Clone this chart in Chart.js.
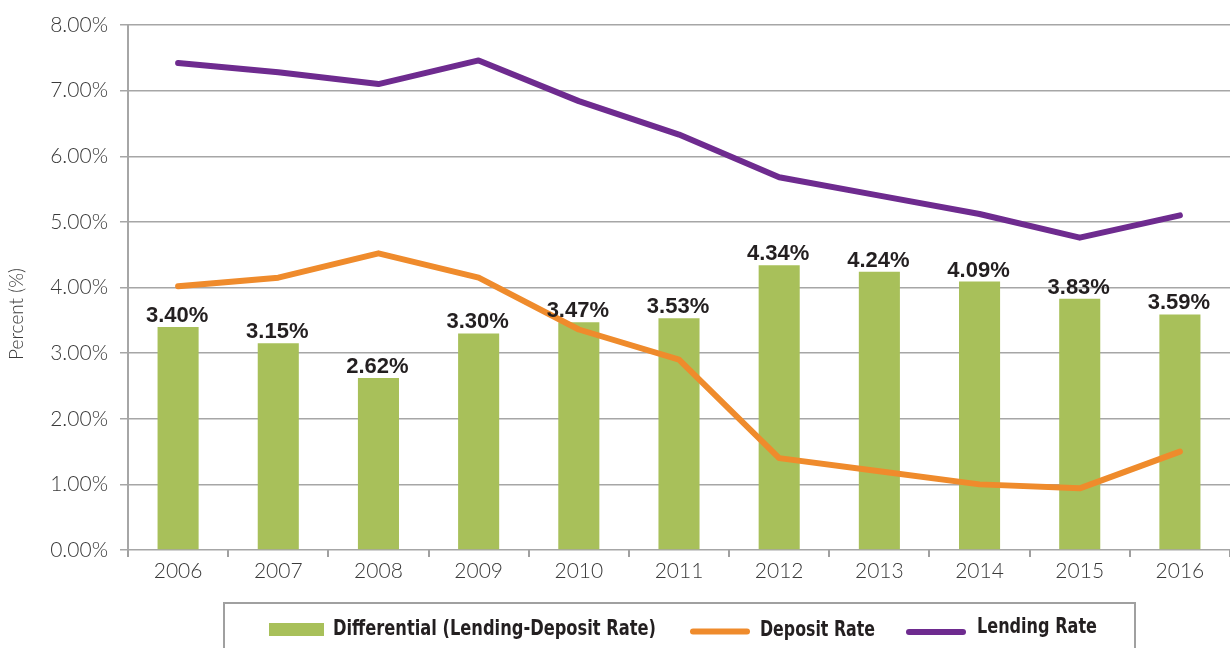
<!DOCTYPE html>
<html>
<head>
<meta charset="utf-8">
<script src="https://cdn.jsdelivr.net/npm/chart.js@4.4.1/dist/chart.umd.min.js"></script>
<style>
html,body{margin:0;padding:0;background:#fff;}
#wrap{width:1230px;height:648px;}
</style>
</head>
<body>
<div id="wrap"><canvas id="c" width="1230" height="648"></canvas></div>
<script>
const years = ['2006','2007','2008','2009','2010','2011','2012','2013','2014','2015','2016'];
const differential = [3.40,3.15,2.62,3.30,3.47,3.53,4.34,4.24,4.09,3.83,3.59];
const depositRate = [4.02,4.15,4.52,4.15,3.36,2.90,1.40,1.20,1.00,0.94,1.50];
const lendingRate = [7.42,7.28,7.10,7.46,6.84,6.33,5.68,5.40,5.12,4.76,5.10];
const yTicks = [0,1,2,3,4,5,6,7,8];
const seriesNames = ['Differential (Lending-Deposit Rate)','Deposit Rate','Lending Rate'];
const yTitle = 'Percent (%)';

const GREEN = '#a8c05a', ORANGE = '#ef8b2c', PURPLE = '#6e2b8f';

const valueLabels = {
  id: 'valueLabels',
  afterDatasetsDraw(chart) {
    const ctx = chart.ctx;
    const meta = chart.getDatasetMeta(0);
    ctx.save();
    ctx.font = 'bold 22px "Liberation Sans", Arial, sans-serif';
    ctx.fillStyle = '#231f20';
    ctx.textAlign = 'center';
    ctx.textBaseline = 'alphabetic';
    meta.data.forEach((bar, i) => {
      ctx.fillText(differential[i].toFixed(2) + '%', bar.x - 1, bar.y - 5);
    });
    ctx.restore();
  }
};

function fitText(ctx, text, x, y, w) {
  const m = ctx.measureText(text).width;
  ctx.save();
  ctx.translate(x, y);
  ctx.scale(w / m, 1);
  ctx.fillText(text, 0, 0);
  ctx.restore();
}

const boxLegend = {
  id: 'boxLegend',
  afterDraw(chart) {
    const ctx = chart.ctx;
    const ds = chart.data.datasets;
    ctx.save();
    // y title
    ctx.save();
    ctx.font = '300 19px Lato, sans-serif';
    ctx.fillStyle = '#3a3a3a';
    ctx.textAlign = 'center';
    ctx.textBaseline = 'middle';
    ctx.translate(17, 314);
    ctx.rotate(-Math.PI / 2);
    ctx.fillText(yTitle, 0, 0);
    ctx.restore();

    ctx.strokeStyle = '#a0a0a0';
    ctx.lineWidth = 2;
    ctx.strokeRect(224, 603, 911, 60);
    ctx.font = 'bold 21px "Liberation Sans Narrow", "DejaVu Sans Condensed", sans-serif';
    ctx.fillStyle = '#231f20';
    ctx.textBaseline = 'alphabetic';
    ctx.textAlign = 'left';
    ctx.fillStyle = ds[0].backgroundColor;
    ctx.fillRect(269, 623, 55, 13);
    ctx.fillStyle = '#231f20';
    fitText(ctx, ds[0].label, 333, 635, 323);
    ctx.lineCap = 'round';
    ctx.lineWidth = 6;
    ctx.strokeStyle = ds[1].borderColor;
    ctx.beginPath(); ctx.moveTo(693, 631.5); ctx.lineTo(747, 631.5); ctx.stroke();
    fitText(ctx, ds[1].label, 760, 635.5, 115);
    ctx.strokeStyle = ds[2].borderColor;
    ctx.beginPath(); ctx.moveTo(909, 632); ctx.lineTo(963, 632); ctx.stroke();
    fitText(ctx, ds[2].label, 977, 632.5, 120);
    ctx.restore();
  }
};

new Chart(document.getElementById('c'), {
  type: 'bar',
  data: {
    labels: years,
    datasets: [
      { type:'bar', label: seriesNames[0], data: differential, backgroundColor: GREEN,
        categoryPercentage: 1.0, barPercentage: 0.41, order: 3 },
      { type:'line', label: seriesNames[1], data: depositRate, borderColor: ORANGE, backgroundColor: ORANGE,
        borderWidth: 6, pointRadius: 0, tension: 0, borderCapStyle:'round', borderJoinStyle:'round', order: 2 },
      { type:'line', label: seriesNames[2], data: lendingRate, borderColor: PURPLE, backgroundColor: PURPLE,
        borderWidth: 6, pointRadius: 0, tension: 0, borderCapStyle:'round', borderJoinStyle:'round', order: 1 }
    ]
  },
  options: {
    responsive: false,
    animation: false,
    devicePixelRatio: 1,
    layout: { padding: { top: 25, right: 0, left: 0, bottom: 0 } },
    plugins: { legend: { display: false }, tooltip: { enabled: false } },
    scales: {
      x: {
        offset: true,
        grid: { offset: true, drawOnChartArea: false, drawTicks: true, tickLength: 7, color: '#a0a0a0', lineWidth: 2 },
        border: { display: false },
        ticks: { color: '#3a3a3a', font: { family: 'Lato', size: 21, weight: '300' }, padding: 2, maxRotation: 0 },
        afterFit(s) { s.height = 98; }
      },
      y: {
        min: 0, max: 8,
        afterBuildTicks(s) { s.ticks = yTicks.map(v => ({ value: v })); },
        grid: { color: '#a6a6a6', lineWidth: 1.5, tickLength: 8 },
        border: { display: true, color: '#a6a6a6', width: 2 },
        ticks: { color: '#3a3a3a', font: { family: 'Lato', size: 21, weight: '300' }, padding: 12,
                 callback: v => v.toFixed(2) + '%' },
        title: { display: false },
        afterFit(s) { s.width = 128; }
      }
    }
  },
  plugins: [valueLabels, boxLegend]
});
</script>
</body>
</html>
